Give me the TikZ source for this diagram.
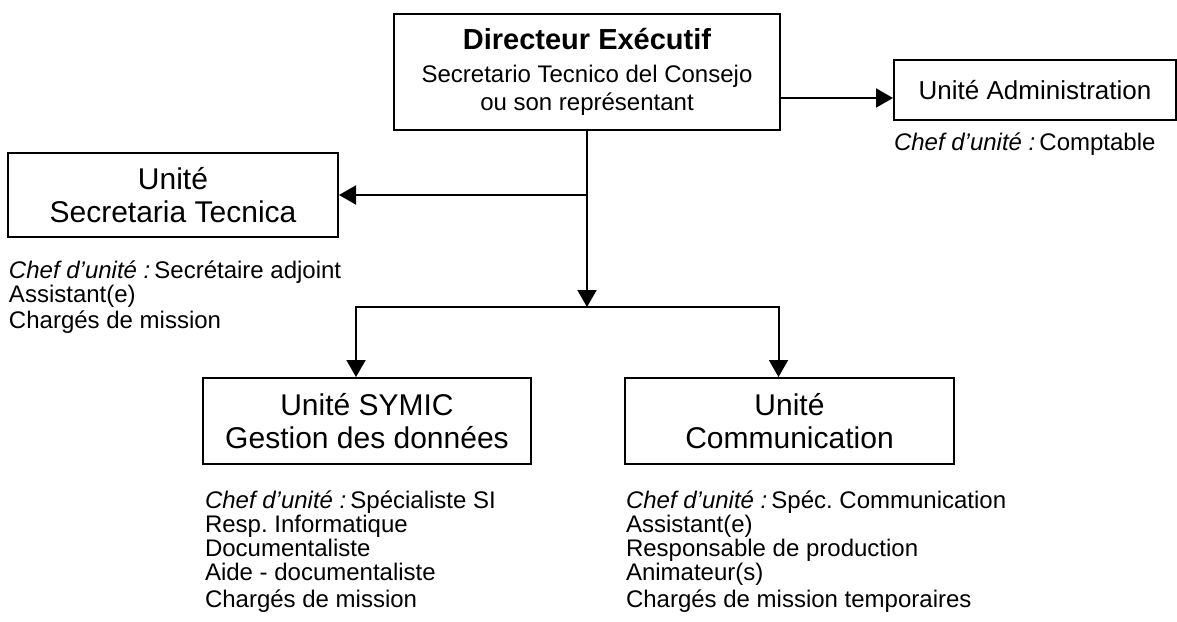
\documentclass[tikz,border=0pt]{standalone}
\usepackage{fontspec}
\setmainfont{Liberation Sans}
\usetikzlibrary{arrows.meta}
\frenchspacing

\begin{document}
\begin{tikzpicture}[
                            x=1pt,
                            y=-1pt,
                            >={Triangle[length=17pt,width=19pt]},
                            line width=2pt
                        ]
                        \tikzstyle{unit}=[draw=black,line width=2pt,inner sep=0pt,align=center,font=\fontsize{30}{33}\selectfont]
                        \tikzstyle{staff}=[inner sep=0pt,anchor=base west,align=left,font=\fontsize{24}{24}\selectfont]

                        \useasboundingbox (0,0) rectangle (1177,621);

                        \node[unit,minimum width=386pt,minimum height=116pt,font=\fontsize{24}{28}\selectfont] (DIR) at (587,72)
                            {{\fontsize{29}{30}\selectfont\bfseries Directeur Exécutif}\\[5pt]Secretario Tecnico del Consejo\\ou son représentant};
                        \node[unit,minimum width=282pt,minimum height=60pt,font=\fontsize{26}{30}\selectfont] (ADM) at (1035,90) {Unité Administration};
                        \node[unit,minimum width=330pt,minimum height=84pt] (SEC) at (173,195) {Unité\\Secretaria Tecnica};
                        \node[unit,minimum width=328pt,minimum height=86pt] (SYM) at (367,421) {Unité SYMIC\\Gestion des données};
                        \node[unit,minimum width=329pt,minimum height=86pt] (COM) at (789.5,421) {Unité\\Communication};

                        % base = last line
                        \node[staff] (ADMstaff) at (893,150) {\textit{Chef d’unité :}\,Comptable};
                        \node[staff] (SECstaff) at (8,328) {\textit{Chef d’unité :}\,Secrétaire adjoint\\Assistant(e)\\[2pt]Chargés de mission};
                        \node[staff] (SYMstaff) at (204,607) {\textit{Chef d’unité :}\,Spécialiste SI\\Resp. Informatique\\Documentaliste\\Aide - documentaliste\\[3pt]Chargés de mission};
                        \node[staff] (COMstaff) at (625,607) {\textit{Chef d’unité :}\,Spéc. Communication\\Assistant(e)\\Responsable de production\\Animateur(s)\\[3pt]Chargés de mission temporaires};

                        \coordinate (fork) at (DIR.south |- 0,307);

                        \draw[->] (DIR.east |- 0,98) -- (ADM.west |- 0,98);
                        \draw[->] (DIR.south) |- (SEC.east);
                        \draw[->] (DIR.south) -- (fork);
                        \draw[->] (fork) -| ([xshift=-11pt]SYM.north);
                        \draw[->] (fork) -| ([xshift=-11pt]COM.north);
                    \end{tikzpicture}
\end{document}
